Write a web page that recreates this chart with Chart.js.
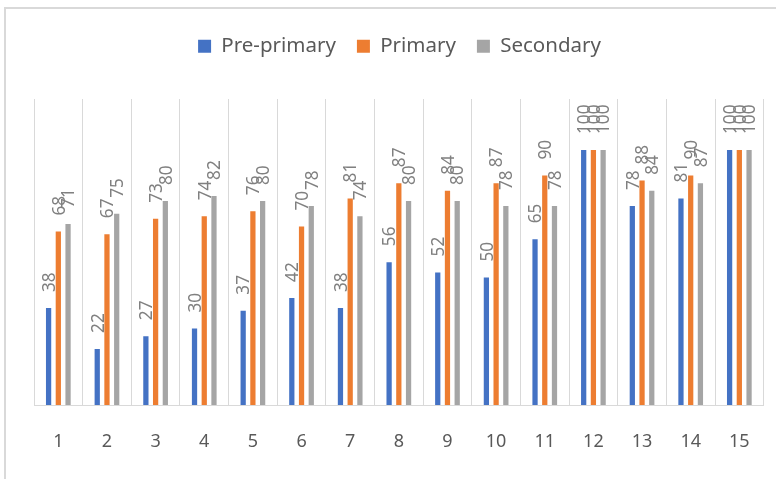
<!DOCTYPE html>
<html>
<head>
<meta charset="utf-8">
<script src="https://cdn.jsdelivr.net/npm/chart.js@4/dist/chart.umd.min.js"></script>
<style>
  html, body { margin: 0; padding: 0; background: #ffffff; width: 776px; height: 479px; overflow: hidden; }
  #frame { position: absolute; left: 4px; top: 7px; width: 1000px; height: 1000px; border: 2px solid #d9d9d9; box-sizing: border-box; }
  #c { position: absolute; left: 0; top: 0; }
</style>
</head>
<body>
<div id="frame"></div>
<canvas id="c" width="776" height="479"></canvas>
<script>
const categories = ['1','2','3','4','5','6','7','8','9','10','11','12','13','14','15'];
const seriesNames = ['Pre-primary', 'Primary', 'Secondary'];
const prePrimary = [38, 22, 27, 30, 37, 42, 38, 56, 52, 50, 65, 100, 78, 81, 100];
const primary    = [68, 67, 73, 74, 76, 70, 81, 87, 84, 87, 90, 100, 88, 90, 100];
const secondary  = [71, 75, 80, 82, 80, 78, 74, 80, 80, 78, 78, 100, 84, 87, 100];
const colors = ['#4472C4', '#ED7D31', '#A5A5A5'];

const FONT = "'Noto Sans', 'Open Sans', sans-serif";

const legendHeightPlugin = {
  id: 'legendHeight',
  afterInit(chart) {
    const lg = chart.legend;
    if (!lg) return;
    const orig = lg.fit.bind(lg);
    lg.fit = function () { orig(); this.height = 84; };
  }
};

const valueLabelPlugin = {
  id: 'valueLabels',
  afterDatasetsDraw(chart) {
    const ctx = chart.ctx;
    ctx.save();
    ctx.font = "18.5px " + FONT;
    ctx.fillStyle = '#808080';
    ctx.textAlign = 'left';
    ctx.textBaseline = 'middle';
    chart.data.datasets.forEach((ds, di) => {
      const meta = chart.getDatasetMeta(di);
      meta.data.forEach((el, i) => {
        ctx.save();
        ctx.translate(el.x + 1, el.y - 16);
        ctx.rotate(-Math.PI / 2);
        ctx.scale(0.93, 1);
        ctx.fillText(String(ds.data[i]), 0, 0);
        ctx.restore();
      });
    });
    ctx.restore();
  }
};

new Chart(document.getElementById('c'), {
  type: 'bar',
  data: {
    labels: categories,
    datasets: [
      { label: seriesNames[0], data: prePrimary, backgroundColor: colors[0] },
      { label: seriesNames[1], data: primary, backgroundColor: colors[1] },
      { label: seriesNames[2], data: secondary, backgroundColor: colors[2] }
    ]
  },
  options: {
    responsive: false,
    devicePixelRatio: 1,
    animation: false,
    layout: { padding: { left: 34, right: 11, top: 15, bottom: 0 } },
    datasets: { bar: { categoryPercentage: 0.6, barPercentage: 0.54 } },
    plugins: {
      legend: {
        position: 'top',
        labels: {
          boxWidth: 13, boxHeight: 13, padding: 21,
          color: '#595959',
          font: { family: FONT, size: 20.5 }
        }
      },
      tooltip: { enabled: false }
    },
    scales: {
      x: {
        grid: { display: true, color: '#d9d9d9', lineWidth: 1, drawTicks: false, offset: true },
        border: { display: true, color: '#d9d9d9', width: 1 },
        ticks: { color: '#595959', font: { family: FONT, size: 18 }, padding: 26, maxRotation: 0 },
        afterFit(scale) { scale.height = 74; }
      },
      y: { display: false, min: 0, max: 120 }
    }
  },
  plugins: [legendHeightPlugin, valueLabelPlugin]
});
</script>
</body>
</html>
